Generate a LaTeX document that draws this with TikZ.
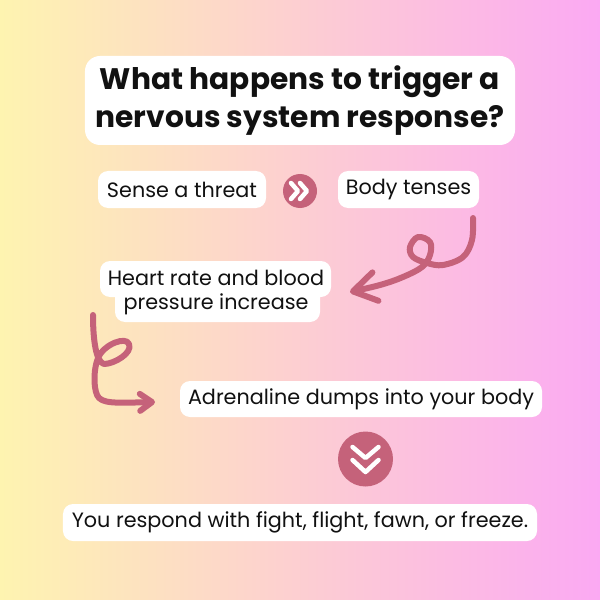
\documentclass[tikz,border=0pt]{standalone}
\usepackage{fontspec}
\setmainfont{Poppins}
\usetikzlibrary{arrows.meta,calc}
\definecolor{WarmLeft}{HTML}{FEF4B0}
\definecolor{WarmMid}{HTML}{FDCFCB}
\definecolor{WarmRight}{HTML}{FBA9F3}
\definecolor{Mauve}{HTML}{C5627A}
\definecolor{Ink}{HTML}{111111}

\begin{document}
\begin{tikzpicture}[x=0.2mm,y=-0.2mm,every node/.style={text=Ink,font=\fontsize{11.8}{16}\selectfont},stepbox/.style={fill=white,rounded corners=2mm,inner sep=0pt,minimum height=7.4mm},titlebox/.style={fill=white,rounded corners=3mm,inner sep=0pt,align=center,font=\fontsize{16.9}{21.8}\selectfont\bfseries},badge/.style={circle,fill=Mauve,inner sep=0pt},chev/.style={draw=white,line width=0.9mm,line cap=round,line join=round},squiggle/.style={draw=Mauve,line width=1.2mm,line cap=round,line join=round}]
\shade[left color=WarmLeft,middle color=WarmMid,right color=WarmRight] (0,0) rectangle (600,600);
\node[titlebox,minimum width=86mm,minimum height=17.8mm](title) at (300,100.5){What happens to trigger a\\nervous system response?};
\node[stepbox,minimum width=33.6mm](sense) at (182,189.5){Sense a threat};\node[badge,minimum size=6.8mm](next1) at (300,191){};\node[stepbox,minimum width=28.2mm](body) at (408.5,189.5){Body tenses};
\draw[chev]([shift={(-9,-8)}]next1.center)--++(7,8)--++(-7,8);\draw[chev]([shift={(0,-8)}]next1.center)--++(7,8)--++(-7,8);
% text background of the two-line box
\fill[white,rounded corners=2mm](100,261) rectangle (331,297);\fill[white,rounded corners=2mm](115,287) rectangle (320,322);
\node[align=center,font=\fontsize{11.8}{13.6}\selectfont](heart) at (216,292.5){Heart rate and blood\\pressure increase};
\node[stepbox,minimum width=72.4mm,minimum height=7.2mm](adren) at (361,399){Adrenaline dumps into your body};
\node[badge,minimum size=11mm](next2) at (365.5,459){};
\draw[chev]([shift={(-13,-12)}]next2.center)--++(13,11)--++(13,-11);\draw[chev]([shift={(-13,1)}]next2.center)--++(13,12)--++(13,-12);
\node[stepbox,minimum width=94.8mm](respond) at (300,522.5){You respond with fight, flight, fawn, or freeze.};
\coordinate(s1) at (473,218);\coordinate(e1) at (350,292);\coordinate(s2) at (93,315);\coordinate(e2) at (155,402);
\draw[squiggle,-{Straight Barb[length=4.6mm,width=5.8mm,round]}] plot[smooth,tension=0.6] coordinates {(s1) (472,240) (463,257) (443,265) (427,263) (413,257) (410,247) (418,237) (430,242) (430,255) (422,267) (403,277) (380,285) (e1)};
\draw[squiggle,-{Straight Barb[length=2.4mm,width=3.4mm,round]}] (s2) .. controls (93,340) and (96,362) .. (104,364) .. controls (114,364) and (133,353) .. (129,344) .. controls (126,336) and (104,344) .. (98,358) .. controls (94,368) and (93,385) .. (97,395) .. controls (101,404) and (115,403) .. (e2);
\end{tikzpicture}
\end{document}
